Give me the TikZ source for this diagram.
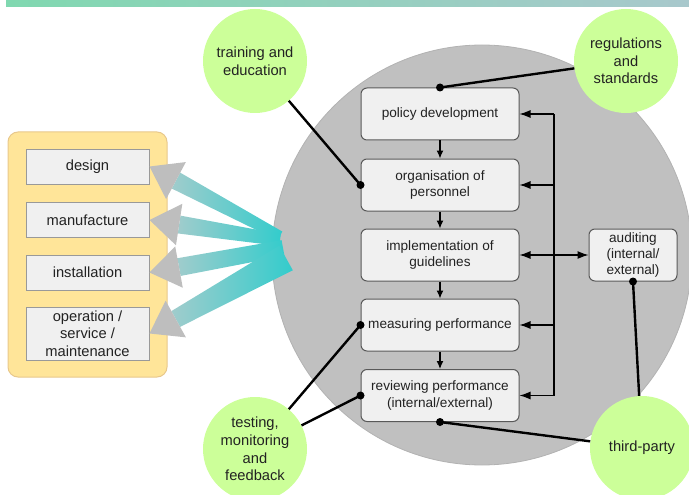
\documentclass[tikz,border=0pt]{standalone}
\usepackage{fontspec}
\setmainfont{Liberation Sans}
\usetikzlibrary{arrows.meta, calc}

\definecolor{ink}{RGB}{34,34,34}
\definecolor{bandleft}{RGB}{128,216,176}
\definecolor{bandright}{RGB}{168,200,204}
\definecolor{discgray}{RGB}{192,192,192}
\definecolor{discedge}{RGB}{178,178,178}
\definecolor{boxgray}{RGB}{240,240,240}
\definecolor{leafgreen}{RGB}{204,255,153}
\definecolor{panelyellow}{RGB}{255,229,153}
\definecolor{paneledge}{RGB}{232,200,140}
\definecolor{tealdark}{RGB}{51,204,204}
\definecolor{teallight}{RGB}{160,204,204}
\definecolor{headgray}{RGB}{190,190,190}

\newcommand{\procfont}{\fontsize{13.6}{16.3}\selectfont}
\newcommand{\leaffont}{\fontsize{14.7}{17.6}\selectfont}
\newcommand{\headlen}{30pt}
\newcommand{\headhalf}{21pt}

\tikzset{proc/.style={rectangle, rounded corners=6pt, draw=black!65, fill=boxgray, line width=1pt,
    minimum width=158pt, minimum height=52pt, inner sep=1pt, align=center, font=\procfont}}
\tikzset{stage/.style={rectangle, draw=black!40, fill=boxgray, line width=1pt,
    minimum width=123pt, minimum height=35pt, inner sep=1pt, align=center, font=\leaffont}}
\tikzset{actor/.style={circle, fill=leafgreen, minimum size=104pt, inner sep=0pt, align=center, font=\leaffont}}
\tikzset{link/.style={line width=2.4pt, black}}
\tikzset{joint/.style={circle, fill=black, inner sep=0pt, minimum size=8pt}}
\tikzset{next/.style={-{Latex[length=8pt,width=7pt]}, line width=1.2pt}}
\tikzset{back/.style={-{Latex[length=11pt,width=8pt]}, line width=1.2pt}}

\begin{document}
\begin{tikzpicture}[x=1pt, y=-1pt, text=ink]
  \useasboundingbox (0,0) rectangle (689,495);

  % --- banner ---
  \shade[left color=bandleft, right color=bandright] (6,0) rectangle (689,7);

  % --- management disc ---
  \node[circle, fill=discgray, draw=discedge, line width=0.8pt, minimum size=420pt] (disc) at (482,255) {};

  % --- life cycle panel ---
  \node[rectangle, rounded corners=10pt, fill=panelyellow, draw=paneledge, line width=1pt,
        minimum width=159pt, minimum height=245pt] (panel) at (87.5,254.5) {};
  \node[stage] (design) at (87.5,166.5) {design};
  \node[stage] (manufacture) at (87.5,220) {manufacture};
  \node[stage] (installation) at (87.5,272.5) {installation};
  \node[stage, minimum height=53pt] (operation) at (87.5,333.5) {operation /\\service /\\maintenance};

  % --- fan of arrows ---
  \foreach \tgt/\ox/\oy/\w in {design/280/236/5pt, manufacture/280/240/6pt,
                               installation/283/248/8pt, operation/286/258/14pt}{
    \coordinate (src) at (\ox,\oy);
    \coordinate (base) at ($(\tgt.east)!\headlen!(src)$);
    \shade[left color=teallight, right color=tealdark]
      ($(base)!9pt!90:(src)$) -- ($(src)!\w!-90:(base)$) -- ($(src)!\w!90:(base)$) -- ($(base)!9pt!-90:(src)$) -- cycle;
  }
  \foreach \tgt/\ox/\oy in {design/280/236, manufacture/280/240, installation/283/248, operation/286/258}{
    \coordinate (src) at (\ox,\oy);
    \coordinate (base) at ($(\tgt.east)!\headlen!(src)$);
    \fill[headgray] (\tgt.east) -- ($(base)!\headhalf!90:(src)$) -- ($(base)!\headhalf!-90:(src)$) -- cycle;
  }

  % --- process ---
  \node[proc] (policy) at (440,114) {policy development};
  \node[proc] (organisation) at (440,185) {organisation of\\personnel};
  \node[proc] (guidelines) at (440,255) {implementation of\\guidelines};
  \node[proc] (measuring) at (440,325) {measuring performance};
  \node[proc] (reviewing) at (440,395.5) {reviewing performance\\(internal/external)};
  \node[proc, minimum width=88pt] (auditing) at (633,255) {auditing\\(internal/\\external)};

  \draw[next] (policy) -- (organisation);
  \draw[next] (organisation) -- (guidelines);
  \draw[next] (guidelines) -- (measuring);
  \draw[next] (measuring) -- (reviewing);

  % --- feedback loop ---
  \coordinate (looptop) at (554,114);
  \coordinate (loopbot) at (554,395.5);
  \draw[line width=1.2pt] (looptop) -- (loopbot);
  \draw[back] (looptop) -- (policy);
  \draw[back] (organisation -| looptop) -- (organisation);
  \draw[back] (measuring -| looptop) -- (measuring);
  \draw[back] (loopbot) -- (reviewing);
  \draw[back, {Latex[length=11pt,width=8pt]}-{Latex[length=11pt,width=8pt]}] (guidelines) -- (auditing);

  % --- influences ---
  \node[actor] (training) at (255,61) {training and\\education};
  \node[actor] (regulations) at (626,61) {regulations\\and\\standards};
  \node[actor] (testing) at (255,449) {testing,\\monitoring\\and\\feedback};
  \node[actor] (thirdparty) at (642,448) {third-party};

  \draw[link] (regulations) -- (policy.north) node[joint] {};
  \draw[link] (training) -- (organisation.west) node[joint] {};
  \draw[link] (testing) -- (measuring.west) node[joint] {};
  \draw[link] (testing) -- (reviewing.west) node[joint] {};
  \draw[link] (thirdparty) -- (reviewing.south) node[joint] {};
  \draw[link] (thirdparty) -- (auditing.south) node[joint] {};

\end{tikzpicture}
\end{document}
